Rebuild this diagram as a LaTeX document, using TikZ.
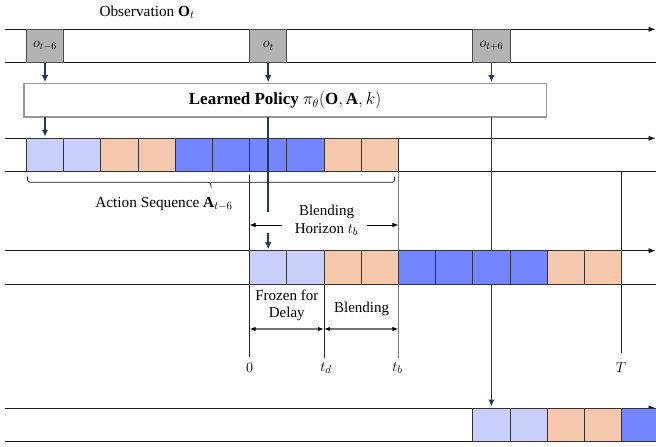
\documentclass[tikz,border=0pt]{standalone}
\usepackage{fontspec}
\setmainfont{Liberation Serif}
\usetikzlibrary{arrows.meta}
\definecolor{lb}{HTML}{C8CFFB}
\definecolor{pe}{HTML}{F5C8AE}
\definecolor{bl}{HTML}{7385FF}
\definecolor{og}{HTML}{B2B2B2}
\definecolor{nv}{HTML}{1F3B5C}
\begin{document}
\begin{tikzpicture}[x=1pt,y=-1pt,
  cell/.style={draw=black!80, line width=0.8pt, minimum width=37.2pt, minimum height=33.3pt, inner sep=0pt, outer sep=0pt, anchor=north west},
  obs/.style={cell, fill=og, draw=black!70, font=\fontsize{14.5}{17}\selectfont},
  policy/.style={draw=black!40, line width=1.5pt, fill=white, minimum width=522.6pt, minimum height=33.3pt, inner sep=0pt, outer sep=0pt, anchor=north west, font=\fontsize{17}{20}\selectfont\bfseries},
  rowline/.style={black!90, line width=0.9pt},
  axisarrow/.style={rowline, -{Latex[length=7pt,width=5.5pt]}},
  conn/.style={nv, line width=1.6pt},
  connarrow/.style={conn, -{Latex[length=7pt,width=6.5pt]}, shorten >=1.5pt},
  guide/.style={black!85, line width=0.7pt},
  guidegray/.style={black!50, line width=1.2pt},
  dimarrow/.style={black, line width=0.7pt, -{Latex[length=6pt,width=4.5pt]}},
  dimgray/.style={black!55, line width=1.3pt, {Latex[length=6pt,width=4.5pt,black]}-{Latex[length=6pt,width=4.5pt,black]}},
  lab/.style={font=\fontsize{15}{17.5}\selectfont, inner sep=0pt, align=center},
  biglab/.style={lab, font=\fontsize{15.3}{18}\selectfont},
  tick/.style={font=\fontsize{15}{17}\selectfont, inner sep=0pt},
  brace/.style={black!90, line width=0.8pt, rounded corners=2.5pt}
]
\useasboundingbox (0,0) rectangle (656,447);

% axes of the four rows
\foreach \t in {29.3,138.3,250.7,408} {
  \draw[axisarrow] (5,\t) -- (655.5,\t);
  \draw[rowline] (5,\t+33.3) -- (656,\t+33.3);
}

% guide lines behind the cells
\draw[guide] (249.6,175) -- (249.6,357);
\draw[guide] (324,284) -- (324,358);
\draw[guidegray] (398.4,171.6) -- (398.4,358);
\draw[guide] (621.6,171.6) -- (621.6,353);

% observation boxes
\node[obs] (o1) at (26.4,29.3) {$o_{t-6}$};
\node[obs] (o2) at (249.6,29.3) {$o_{t}$};
\node[obs] (o3) at (472.8,29.3) {$o_{t+6}$};
\node[biglab] (obslab) at (147,12) {Observation $\mathbf{O}_t$};

% policy
\node[policy] (pol) at (23.8,83.7) {Learned Policy $\pi_\theta(\mathbf{O},\mathbf{A},k)$};

% observation -> policy
\draw[connarrow] (o1.south) -- (o1.south |- pol.north);
\draw[connarrow] (o2.south) -- (o2.south |- pol.north);
\draw[connarrow] (o3.south) -- (o3.south |- pol.north);

% action sequence rows
\foreach \c [count=\i] in {lb,lb,pe,pe,bl,bl,bl,bl,pe,pe}
  \node[cell, fill=\c] (a\i) at ({26.4+(\i-1)*37.2},138.3) {};
\foreach \c [count=\i] in {lb,lb,pe,pe,bl}
  \node[cell, fill=\c] (c\i) at ({472.8+(\i-1)*37.2},408) {};

% long connector from the policy to the last row, behind row 3
\draw[connarrow] (pol.south -| c1.north) -- (c1.north);

\foreach \c [count=\i] in {lb,lb,pe,pe,bl,bl,bl,bl,pe,pe}
  \node[cell, fill=\c] (b\i) at ({249.6+(\i-1)*37.2},250.7) {};

% policy -> action sequence
\draw[connarrow] (pol.south -| a1.north) -- (a1.north);
\coordinate (m1) at (268.2,212.3);
\coordinate (m2) at (268.2,232.5);
\draw[conn] (pol.south -| b1.north) -- (m1);
\draw[connarrow] (m2) -- (b1.north);

% brace under the first action sequence
\coordinate (brL) at (27.6,176.5);
\coordinate (brR) at (394.6,176.5);
\coordinate (brM) at (211,182.3);
\coordinate (brT) at (211,188);
\draw[brace] (brL) |- (brM) -- (brT);
\draw[brace] (brR) |- (brM);
\node[biglab] (aseq) at (164,204) {Action Sequence $\mathbf{A}_{t-6}$};

% blending horizon
\node[lab] (bh) at (326.5,220.5) {Blending\\Horizon $t_b$};
\coordinate (bhL0) at (281.6,225);
\coordinate (bhL1) at (249.6,225);
\coordinate (bhR0) at (367,225);
\coordinate (bhR1) at (398.4,225);
\draw[dimarrow] (bhL0) -- (bhL1);
\draw[dimarrow] (bhR0) -- (bhR1);

% frozen / blending spans
\node[lab] (frz) at (286.8,305.5) {Frozen for\\Delay};
\node[lab] (bld) at (361.6,309) {Blending};
\coordinate (s0) at (249.6,329);
\coordinate (s1) at (324,329);
\coordinate (s2) at (398.4,329);
\draw[dimgray] (s0) -- (s1);
\draw[dimgray] (s1) -- (s2);

% time ticks
\node[tick] (t0) at (249.6,368) {$0$};
\node[tick] (td) at (326,368) {$t_d$};
\node[tick] (tb) at (397.5,368) {$t_b$};
\node[tick] (tT) at (621,368) {$T$};
\end{tikzpicture}
\end{document}
